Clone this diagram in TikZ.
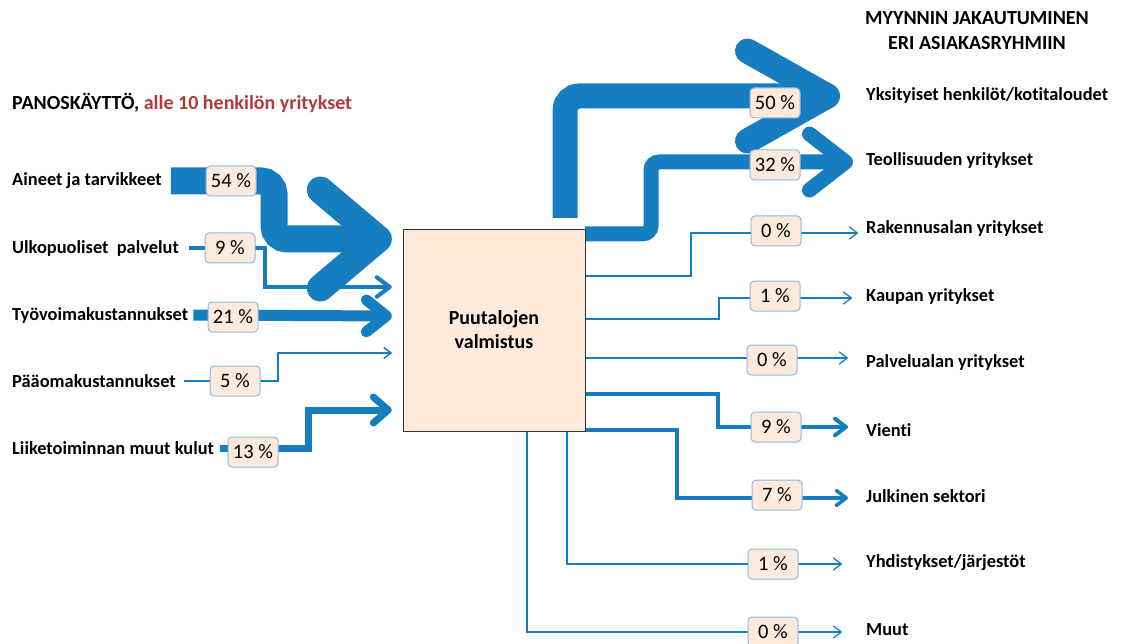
\documentclass[tikz,border=0pt]{standalone}
\usepackage{fontspec}
\setmainfont{Carlito}[Ligatures=NoCommon]
\usetikzlibrary{arrows.meta,backgrounds}

\definecolor{flowblue}{RGB}{22,126,192}
\definecolor{peach}{RGB}{253,234,218}
\definecolor{pctline}{RGB}{140,185,228}
\definecolor{titlered}{RGB}{176,58,58}

\tikzset{
	lbl/.style={anchor=west,inner sep=0pt,font=\fontsize{18.4}{22}\selectfont\bfseries},
	pct/.style={draw=pctline,line width=1pt,fill=peach,rounded corners=4pt,minimum width=50pt,minimum height=30pt,
		inner sep=0pt,font=\fontsize{20.5}{24}\selectfont},
	flow/.style={draw=flowblue},
	barb/.style={-{Straight Barb[length=#1,width=1.5*#1,round]}}
}

\begin{document}
\begin{tikzpicture}[x=1pt,y=-1pt]
	\useasboundingbox (0,0) rectangle (1121,644);
	
	% The titles
	\node[lbl,font=\fontsize{20}{25}\selectfont\bfseries] at (12,103) {PANOSKÄYTTÖ, \textcolor{titlered}{alle 10 henkilön yritykset}};
	\node[lbl,anchor=center,align=center,font=\fontsize{20}{25}\selectfont\bfseries] at (977,31) {MYYNNIN JAKAUTUMINEN\\ERI ASIAKASRYHMIIN};
	
	% The process
	\node[draw=black!80,fill=peach,minimum width=182pt,minimum height=202pt,
		font=\fontsize{20}{24}\selectfont\bfseries,align=center] (box) at (494,330) {Puutalojen\\valmistus};
	
	% Inputs
	\node[lbl] (in1) at (12,181) {Aineet ja tarvikkeet};
	\node[lbl] (in2) at (12,248) {Ulkopuoliset\ \ palvelut};
	\node[lbl] (in3) at (12,315) {Työvoimakustannukset};
	\node[lbl] (in4) at (12,381) {Pääomakustannukset};
	\node[lbl] (in5) at (12,448) {Liiketoiminnan muut kulut};
	
	% Customer groups
	\node[lbl] (out1) at (866,95) {Yksityiset henkilöt/kotitaloudet};
	\node[lbl] (out2) at (866,160) {Teollisuuden yritykset};
	\node[lbl] (out3) at (866,228) {Rakennusalan yritykset};
	\node[lbl] (out4) at (866,296) {Kaupan yritykset};
	\node[lbl] (out5) at (866,362) {Palvelualan yritykset};
	\node[lbl] (out6) at (866,430) {Vienti};
	\node[lbl] (out7) at (866,496) {Julkinen sektori};
	\node[lbl] (out8) at (866,563) {Yhdistykset/järjestöt};
	\node[lbl] (out9) at (866,630) {Muut};
	
	\begin{scope}[on background layer]
	% The input flows
	\draw[flow,line width=27pt,rounded corners=13pt,-{Straight Barb[length=58pt,width=98pt,round]}]
		([xshift=9pt]in1.east) -| (274,239) -- ([xshift=-11pt]box.west |- 0,239);
	\draw[flow,line width=4pt,barb=13pt] ([xshift=10pt]in2.east) -| (265,287) -- ([xshift=-11pt]box.west |- 0,287);
	\draw[flow,line width=11pt,-{Straight Barb[length=20pt,width=32pt,round]}]
		([xshift=5pt]in3.east) -- ([xshift=-11pt]box.west |- 0,316);
	\draw[flow,line width=1.5pt,barb=7pt] ([xshift=8pt]in4.east) -| (278,353) -- ([xshift=-11pt]box.west |- 0,353);
	\draw[flow,line width=7pt,-{Straight Barb[length=15pt,width=26pt,round]}]
		([xshift=6pt]in5.east) -| (308,410) -- ([xshift=-11pt]box.west |- 0,410);
	
	% The output flows
	\draw[flow,line width=25pt,rounded corners=14pt,-{Straight Barb[length=80pt,width=90pt,round]}]
		([xshift=-20pt,yshift=11pt]box.north east) |- ([xshift=-26pt]out1.west |- 0,96);
	\draw[flow,line width=15pt,rounded corners=8pt,-{Straight Barb[length=36pt,width=56pt,round]}]
		([yshift=-5pt]box.north east) -| (651,162) -- ([xshift=-13pt]out2.west |- 0,162);
	\draw[flow,line width=1.3pt,barb=8pt] (box.east |- 0,276) -| (691,233) -- ([xshift=-8pt]out3.west |- 0,233);
	\draw[flow,line width=1.3pt,barb=8pt] (box.east |- 0,319) -| (719,298) -- ([xshift=-14pt]out4.west |- 0,298);
	\draw[flow,line width=1.3pt,barb=8pt] (box.east |- 0,358) -- ([xshift=-18pt]out5.west |- 0,358);
	\draw[flow,line width=4pt,barb=11pt] (box.east |- 0,394) -| (718,427) -- ([xshift=-18pt]out6.west |- 0,427);
	\draw[flow,line width=3.5pt,barb=10pt] (box.east |- 0,430) -| (677,498) -- ([xshift=-18pt]out7.west |- 0,498);
	\draw[flow,line width=1.3pt,barb=8pt] ([xshift=73pt]box.south) |- ([xshift=-24pt]out8.west |- 0,564);
	\draw[flow,line width=1.3pt,barb=8pt] ([xshift=33pt]box.south) |- ([xshift=-24pt]out9.west |- 0,632);
	\end{scope}
	
	% The shares
	\node[pct] (p1) at (231,181) {54 \%};
	\node[pct] (p2) at (230,248) {9 \%};
	\node[pct] (p3) at (233,317) {21 \%};
	\node[pct] (p4) at (235,381) {5 \%};
	\node[pct] (p5) at (253,452) {13 \%};
	\node[pct] (q1) at (775,103) {50 \%};
	\node[pct] (q2) at (775,165) {32 \%};
	\node[pct] (q3) at (776,231) {0 \%};
	\node[pct] (q4) at (775,296) {1 \%};
	\node[pct] (q5) at (772,360) {0 \%};
	\node[pct] (q6) at (776,427) {9 \%};
	\node[pct] (q7) at (777,495) {7 \%};
	\node[pct] (q8) at (773,564) {1 \%};
	\node[pct] (q9) at (773,632) {0 \%};
\end{tikzpicture}
\end{document}
